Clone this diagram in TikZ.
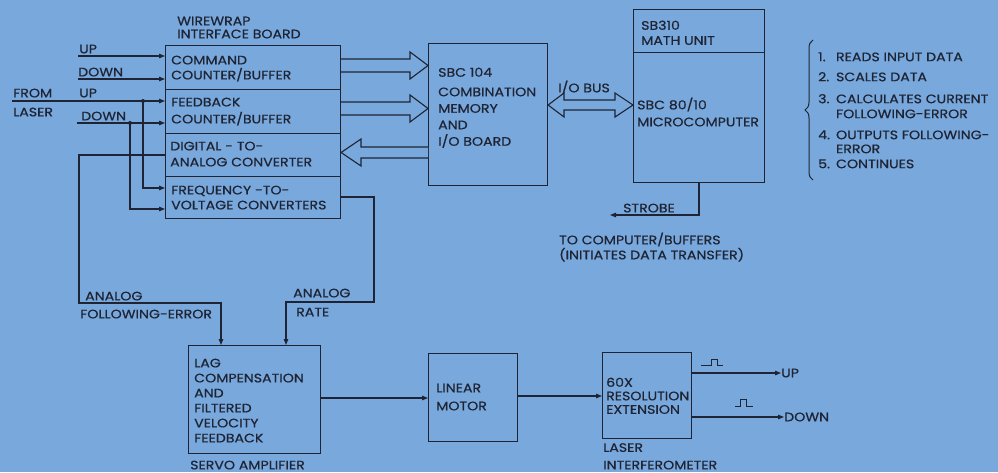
\documentclass[tikz,border=0pt]{standalone}
\usepackage{fontspec}
\setmainfont{Poppins}[FakeStretch=1.15,FakeBold=0.6]
\usetikzlibrary{arrows.meta,decorations.pathreplacing}
\definecolor{bg}{RGB}{120,168,220}
\definecolor{ink}{RGB}{30,36,52}
\newcommand\fs[1]{\fontsize{12.3}{#1}\selectfont}
\begin{document}
\begin{tikzpicture}[x=1pt,y=-1pt,
  box/.style={draw=ink,line width=1.1pt,inner sep=0pt,anchor=north west},
  txt/.style={text=ink,inner sep=0pt,anchor=north west,align=left,font=\fs{15}},
  wire/.style={draw=ink,line width=1.1pt},
  arr/.style={wire,-{Triangle[length=6pt,width=4.5pt]}},
  hollow/.style={draw=ink,line width=1.1pt,fill=bg,line join=miter},
  dot/.style={circle,fill=ink,inner sep=0pt,minimum size=4pt}]
\fill[bg] (0,0) rectangle (998,472);
\useasboundingbox (0,0) rectangle (998,472);
% ---- boxes
\node[box,minimum width=175,minimum height=44] (cmd) at (165,45) {};
\node[box,minimum width=175,minimum height=44] (fb) at (165,89) {};
\node[box,minimum width=175,minimum height=43] (dac) at (165,133) {};
\node[box,minimum width=175,minimum height=42] (fv) at (165,176) {};
\node[box,minimum width=119,minimum height=142] (sbc) at (428,43) {};
\node[box,minimum width=131,minimum height=43] (math) at (633,9) {};
\node[box,minimum width=131,minimum height=130] (micro) at (633,52) {};
\node[box,minimum width=132,minimum height=108] (servo) at (188,345) {};
\node[box,minimum width=89,minimum height=88] (motor) at (428,353) {};
\node[box,minimum width=89,minimum height=86] (laser) at (602,352) {};
% ---- texts
\node[txt,font=\fs{13}] (wwlbl) at (177,16.5) {WIREWRAP\\INTERFACE BOARD};
\node[txt] (cmdt) at (171,55.5) {COMMAND\\COUNTER/BUFFER};
\node[txt,font=\fs{17}] (fbt) at (171,97.5) {FEEDBACK\\COUNTER/BUFFER};
\node[txt,font=\fs{16}] (dact) at (170,141.5) {DIGITAL - TO-\\ANALOG CONVERTER};
\node[txt] (fvt) at (171,185.5) {FREQUENCY -TO-\\VOLTAGE CONVERTERS};
\node[txt,font=\fs{16.5}] (sbct) at (438,67.5) {SBC 104\\[3pt]COMBINATION\\MEMORY\\AND\\I/O BOARD};
\node[txt] (iobus) at (558,80.5) {I/O BUS};
\node[txt] (matht) at (641,20.5) {SB310\\MATH UNIT};
\node[txt,font=\fs{17}] (microt) at (637,97.5) {SBC 80/10\\MICROCOMPUTER};
\node[txt] (strobe) at (623,203.5) {STROBE};
\node[txt] (tocomp) at (559,232.5) {TO COMPUTER/BUFFERS\\(INITIATES DATA TRANSFER)};
\node[txt] (up1) at (79,44.5) {UP};
\node[txt] (dn1) at (78,67.5) {DOWN};
\node[txt,font=\fs{19}] (from) at (13,88.5) {FROM\\LASER};
\node[txt] (up2) at (79,88.5) {UP};
\node[txt] (dn2) at (81,111.5) {DOWN};
\node[txt,font=\fs{18}] (afe) at (80,291.5) {\hspace*{5pt}ANALOG\\FOLLOWING-ERROR};
\node[txt,font=\fs{19}] (arate) at (293,288.5) {ANALOG\\\hspace*{3pt}RATE};
\node[txt] (servot) at (194,358.5) {LAG\\COMPENSATION\\AND\\FILTERED\\VELOCITY\\FEEDBACK};
\node[txt] (servol) at (190,460.5) {SERVO AMPLIFIER};
\node[txt,font=\fs{18}] (motort) at (436,383.5) {LINEAR\\MOTOR};
\node[txt,font=\fs{13.5}] (lasert) at (606,377.5) {60X\\RESOLUTION\\EXTENSION};
\node[txt,font=\fs{17.5}] (laserl) at (603,443) {LASER\\INTERFEROMETER};
\node[txt,anchor=west] (upout) at (781,373) {UP};
\node[txt,anchor=west] (dnout) at (784,417) {DOWN};
\node[txt] (list) at (818,50.5) {\begin{tabular}{@{}l@{\hspace{6pt}}l@{}}
1. & READS INPUT DATA\\[5pt]
2. & SCALES DATA\\[7pt]
3. & CALCULATES CURRENT\\
   & FOLLOWING-ERROR\\[6pt]
4. & OUTPUTS FOLLOWING-\\[-1pt]
   & ERROR\\[0pt]
5. & CONTINUES
\end{tabular}};
% ---- coordinates
\coordinate (u1s) at (78,56);
\coordinate (d1s) at (78,79);
\coordinate (u2s) at (12,101);
\coordinate (d2s) at (77,123);
\node[dot] (j1) at (143,101) {};
\node[dot] (j2) at (130,123) {};
% ---- signal lines
\draw[arr] (u1s) -- (u1s -| cmd.west);
\draw[arr] (d1s) -- (d1s -| cmd.west);
\draw[arr] (u2s) -- (u2s -| fb.west);
\draw[arr] (d2s) -- (d2s -| fb.west);
\draw[arr] (j1.center) -- (143,188) -- (fv.west |- 0,188);
\draw[arr] (j2.center) -- (130,209) -- (fv.west |- 0,209);
\draw[arr] (dac.west |- 0,155) -- (79,155) -- (79,303) -- (221,303) -- (221,0 |- servo.north);
\draw[arr] (fv.east |- 0,197) -- (374,197) -- (374,302) -- (286,302) -- (286,0 |- servo.north);
\draw[arr] (servo.east |- 0,398) -- (motor.west |- 0,398);
\draw[arr] (motor.east |- 0,396) -- (laser.west |- 0,396);
\draw[arr] (laser.east |- 0,373) -- (upout.west);
\draw[arr] (laser.east |- 0,417) -- (dnout.west);
\draw[arr] (micro.south -| 699,0) -- (699,215) -- (610,215);
% ---- pulses
\draw[wire,line width=0.9pt] (701,365) -- (711,365) -- (711,359) -- (717,359) -- (717,365) -- (723,365);
\draw[wire,line width=0.9pt] (735,406) -- (740,406) -- (740,399) -- (746,399) -- (746,406) -- (753,406);
% ---- hollow bus arrows
\draw[hollow] (cmd.east |- 0,59) -- (410,59) -- (410,52) -- (sbc.west |- 0,65.5) -- (410,79) -- (410,72) -- (cmd.east |- 0,72);
\draw[hollow] (fb.east |- 0,102) -- (410,102) -- (410,95) -- (sbc.west |- 0,108.5) -- (410,122) -- (410,115) -- (fb.east |- 0,115);
\draw[hollow] (sbc.west |- 0,147) -- (361,147) -- (361,139) -- (dac.east |- 0,152.5) -- (361,166) -- (361,158) -- (sbc.west |- 0,158);
\draw[hollow] (sbc.east |- 0,105) -- (564,93) -- (564,100) -- (615,100) -- (615,93) -- (micro.west |- 0,105) -- (615,117) -- (615,110) -- (564,110) -- (564,117) -- cycle;
% ---- brace
\draw[ink,line width=1pt,decorate,decoration={brace,amplitude=8pt}] (813,180) -- (813,40);
\end{tikzpicture}
\end{document}
